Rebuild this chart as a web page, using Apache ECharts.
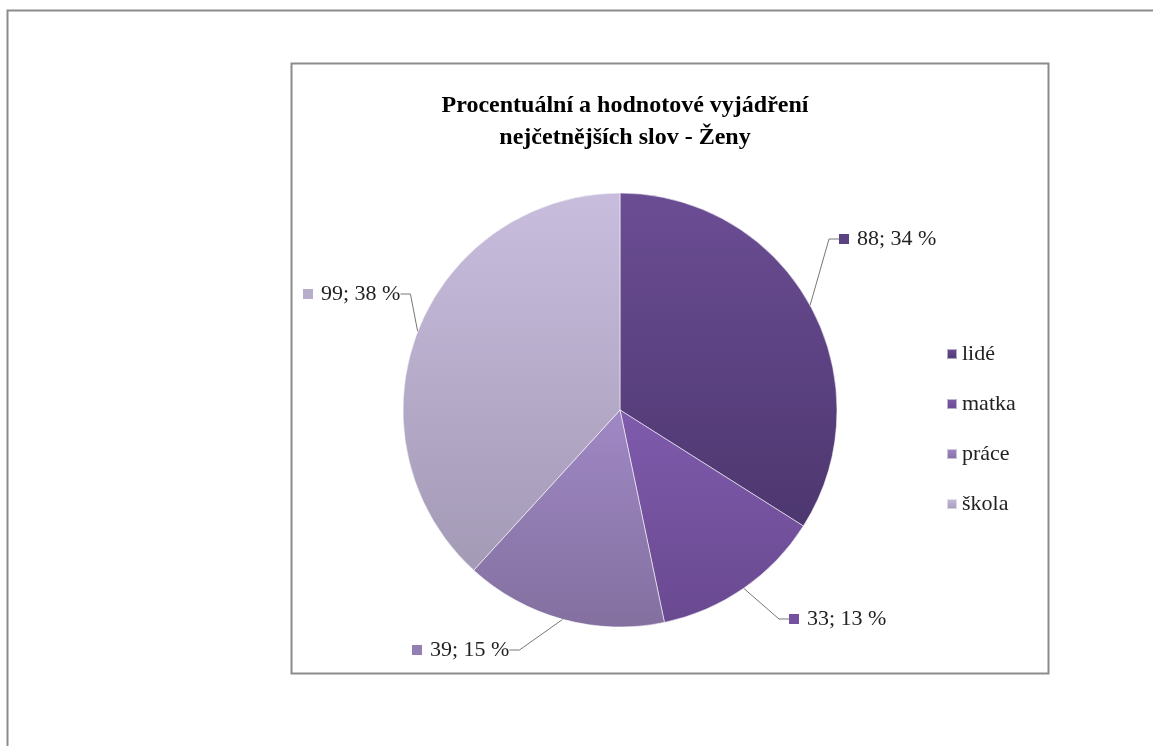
<!DOCTYPE html>
<html>
<head>
<meta charset="utf-8">
<title>Ženy</title>
<script src="https://cdn.jsdelivr.net/npm/echarts@6/dist/echarts.min.js"></script>
<style>
  html, body { margin: 0; padding: 0; background: #fff; }
  #chart { width: 1153px; height: 746px; }
</style>
</head>
<body>
<div id="chart"></div>
<script>
// data
const categories = ['lidé', 'matka', 'práce', 'škola']
const values = [88, 33, 39, 99]

// top / bottom colour of each slice (vertical gradient)
const topColors = ['#6b4d94', '#7f5bac', '#a088c5', '#c9bddd']
const bottomColors = ['#4d376f', '#694990', '#83709f', '#a39ab6']
const squareColors = ['#5b4283', '#7452a0', '#9280b4', '#b8aecb']

// where each data label sits (left edge, vertical middle)
const labelAnchor = [[839, 239], [789, 619], [412, 650], [303, 294]]

const chart = echarts.init(document.getElementById('chart'))

const rich = { v: { fontFamily: 'Liberation Serif', fontSize: 22, color: '#222', padding: [0, 0, 0, 8] } }
squareColors.forEach((c, i) => {
  rich['sq' + i] = { width: 10, height: 10, backgroundColor: c }
})

const seriesData = categories.map((name, i) => {
  return {
    name: name,
    value: values[i],
    itemStyle: {
      color: {
        type: 'linear', x: 0, y: 0, x2: 0, y2: 1,
        colorStops: [
          { offset: 0, color: topColors[i] },
          { offset: 1, color: bottomColors[i] }
        ]
      }
    }
  }
})

const option = {
  animation: false,
  backgroundColor: '#fff',
  title: {
    text: 'Procentuální a hodnotové vyjádření\nnejčetnějších slov - Ženy',
    left: 620,
    top: 85,
    textAlign: 'center',
    textStyle: {
      fontFamily: 'Liberation Serif',
      fontWeight: 'bold',
      fontSize: 24,
      lineHeight: 32,
      color: '#000'
    }
  },
  legend: {
    orient: 'vertical',
    left: 941,
    top: 338,
    itemWidth: 10,
    itemHeight: 10,
    itemGap: 28,
    icon: 'rect',
    data: categories,
    textStyle: {
      fontFamily: 'Liberation Serif',
      fontSize: 22,
      color: '#222',
      padding: [0, 0, 0, 0]
    }
  },
  graphic: [
    {
      type: 'rect',
      shape: { x: 7.5, y: 10.5, width: 1200, height: 800 },
      style: { fill: 'none', stroke: '#8c8c8c', lineWidth: 2 },
      silent: true
    },
    {
      type: 'rect',
      shape: { x: 291.5, y: 63.5, width: 757, height: 610 },
      style: { fill: 'none', stroke: '#8c8c8c', lineWidth: 2 },
      silent: true
    }
  ],
  series: [
    {
      type: 'pie',
      center: [620, 410],
      radius: 217,
      startAngle: 90,
      clockwise: true,
      data: seriesData,
      itemStyle: {
        borderColor: 'rgba(255,255,255,0.55)',
        borderWidth: 1
      },
      label: {
        show: true,
        position: 'outside',
        formatter: function (p) {
          return '{sq' + p.dataIndex + '|}{v|' + p.value + '; ' + Math.round(p.percent) + ' %}'
        },
        rich: rich
      },
      labelLine: {
        show: true,
        length: 20,
        length2: 10,
        lineStyle: { color: '#777', width: 1 }
      },
      labelLayout: function (params) {
        const a = labelAnchor[params.dataIndex]
        return { x: a[0], y: a[1], align: 'left', verticalAlign: 'middle' }
      },
      emphasis: { disabled: true }
    }
  ]
}

chart.setOption(option)
</script>
</body>
</html>
